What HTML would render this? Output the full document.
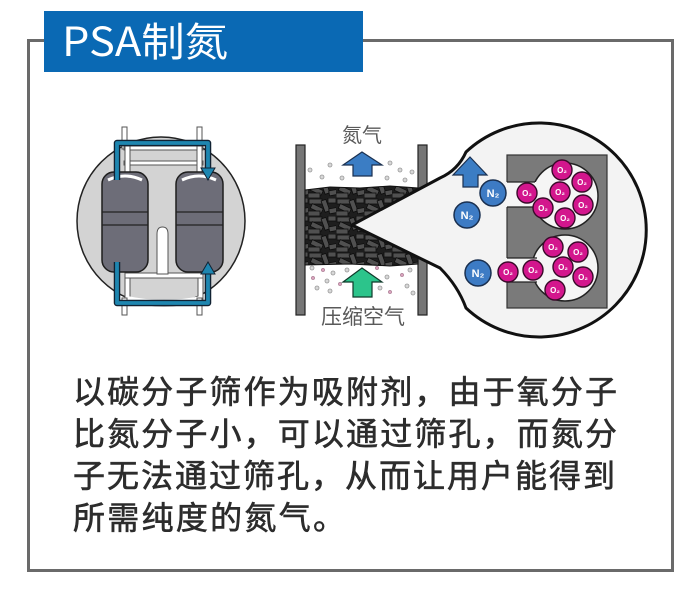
<!DOCTYPE html>
<html>
<head>
<meta charset="utf-8">
<style>
  html,body{margin:0;padding:0;background:#fff;}
  body{width:700px;height:593px;overflow:hidden;}
  svg{display:block;}
  .cjk{font-family:"Liberation Sans","Noto Sans CJK SC",sans-serif;}
</style>
</head>
<body>
<svg width="700" height="593" viewBox="0 0 700 593" xmlns="http://www.w3.org/2000/svg">
  <defs>
    <pattern id="rods" width="28" height="18" patternUnits="userSpaceOnUse">
      <rect width="28" height="18" fill="#1e1e1e"/>
      <g fill="#505050" stroke="#0c0c0c" stroke-width="0.8">
        <rect x="1" y="1" width="13" height="5"/>
        <rect x="15" y="2" width="5" height="12" transform="rotate(-20 17 8)"/>
        <rect x="3" y="8" width="12" height="5" transform="rotate(25 9 10)"/>
        <rect x="21" y="10" width="11" height="5" transform="rotate(-10 26 12)"/>
        <rect x="0" y="13" width="12" height="5"/>
        <rect x="20" y="0" width="8" height="5"/>
      </g>
    </pattern>
  </defs>

  <!-- frame -->
  <rect x="28.5" y="40.5" width="644" height="530" fill="none" stroke="#6a6a6a" stroke-width="3"/>
  <!-- title -->
  <rect x="44" y="11" width="319" height="61" fill="#0a69b4"/>
  <text x="62" y="56" font-size="40" fill="#fff" font-family="'Noto Sans CJK SC','Liberation Sans',sans-serif" textLength="166" lengthAdjust="spacingAndGlyphs">PSA制氮</text>

  <!-- ============ LEFT DIAGRAM ============ -->
  <circle cx="161" cy="221" r="84" fill="#d3d3d3" stroke="#222" stroke-width="1.5"/>
  <rect x="122" y="127" width="5" height="22" fill="#fff" stroke="#555" stroke-width="1"/>
  <rect x="197" y="127" width="5" height="22" fill="#fff" stroke="#555" stroke-width="1"/>
  <rect x="124" y="146" width="79" height="4" fill="#fff" stroke="#555" stroke-width="1"/>
  <rect x="124" y="161" width="79" height="4" fill="#fff" stroke="#555" stroke-width="1"/>
  <rect x="125" y="146" width="5" height="28" fill="#fff" stroke="#555" stroke-width="1"/>
  <rect x="197" y="146" width="5" height="28" fill="#fff" stroke="#555" stroke-width="1"/>
  <rect x="125" y="264" width="5" height="38" fill="#fff" stroke="#555" stroke-width="1"/>
  <rect x="198" y="264" width="5" height="38" fill="#fff" stroke="#555" stroke-width="1"/>
  <rect x="125" y="273" width="78" height="5" fill="#fff" stroke="#555" stroke-width="1"/>
  <path d="M127,298 Q164,306 201,298" fill="none" stroke="#fff" stroke-width="4"/>
  <path d="M127,302 Q164,310 201,302" fill="none" stroke="#555" stroke-width="1"/>
  <rect x="122" y="298" width="5" height="17" fill="#fff" stroke="#555" stroke-width="1"/>
  <rect x="197" y="298" width="5" height="17" fill="#fff" stroke="#555" stroke-width="1"/>
  <path d="M157,274 V234 Q157,227 162.5,227 Q168,227 168,234 V274 Z" fill="#fff" stroke="#555" stroke-width="1"/>
  <rect x="102" y="172" width="46" height="100" rx="12" fill="#6d6d78" stroke="#1e1e1e" stroke-width="1.5"/>
  <rect x="176" y="172" width="47" height="100" rx="12" fill="#6d6d78" stroke="#1e1e1e" stroke-width="1.5"/>
  <path d="M108,180 Q125,172 142,180" fill="none" stroke="#fff" stroke-width="3"/>
  <path d="M182,180 Q199,172 216,180" fill="none" stroke="#fff" stroke-width="3"/>
  <g stroke="#222" stroke-width="1.2">
    <line x1="102" y1="212" x2="148" y2="212"/>
    <line x1="102" y1="225" x2="148" y2="225"/>
    <line x1="176" y1="212" x2="223" y2="212"/>
    <line x1="176" y1="225" x2="223" y2="225"/>
  </g>
  <g fill="none" stroke-linejoin="round">
    <path d="M117,180 V143 H208 V170" stroke="#123" stroke-width="6.5"/>
    <path d="M117,180 V143 H208 V170" stroke="#1e86b0" stroke-width="3.8"/>
    <path d="M117,262 V303 H208 V272" stroke="#123" stroke-width="6.5"/>
    <path d="M117,262 V303 H208 V272" stroke="#1e86b0" stroke-width="3.8"/>
  </g>
  <polygon points="201,168 215,168 208,180" fill="#1e86b0" stroke="#123" stroke-width="1"/>
  <polygon points="201,274 215,274 208,262" fill="#1e86b0" stroke="#123" stroke-width="1"/>

  <!-- ============ MIDDLE DIAGRAM ============ -->
  <rect x="296" y="145" width="9" height="170" fill="#767676" stroke="#222" stroke-width="1.2"/>
  <rect x="418" y="145" width="9" height="170" fill="#767676" stroke="#222" stroke-width="1.2"/>
  <g fill="#d8d8d8" stroke="#999" stroke-width="0.8">
    <circle cx="310" cy="170" r="2"/><circle cx="330" cy="165" r="2"/><circle cx="322" cy="177" r="2"/>
    <circle cx="342" cy="178" r="2"/><circle cx="390" cy="163" r="2"/><circle cx="400" cy="170" r="2"/>
    <circle cx="412" cy="172" r="2"/><circle cx="387" cy="178" r="2"/><circle cx="405" cy="180" r="2"/>
    <circle cx="312" cy="268" r="2"/><circle cx="333" cy="273" r="2"/><circle cx="327" cy="281" r="2"/>
    <circle cx="347" cy="270" r="2"/><circle cx="387" cy="277" r="2"/><circle cx="410" cy="270" r="2"/>
    <circle cx="317" cy="288" r="2"/><circle cx="380" cy="288" r="2"/><circle cx="407" cy="286" r="2"/>
    <circle cx="330" cy="291" r="2"/><circle cx="413" cy="293" r="2"/>
  </g>
  <g fill="#d9a3bd" stroke="#a07088" stroke-width="0.6">
    <circle cx="323" cy="270" r="1.6"/><circle cx="313" cy="278" r="1.6"/><circle cx="377" cy="268" r="1.6"/>
    <circle cx="402" cy="275" r="1.6"/><circle cx="390" cy="292" r="1.6"/><circle cx="340" cy="284" r="1.6"/>
  </g>
  <path d="M305,190 L330,187 L360,188 L390,186 L418,188 V264 L390,266 L350,264 L305,265 Z" fill="url(#rods)" stroke="#111" stroke-width="1"/>
  <polygon points="362,152 382,165 372,165 372,176 353,176 353,165 343,165" fill="#3b7dc4" stroke="#1a3050" stroke-width="1.2"/>
  <polygon points="362,268 382,282 372,282 372,297 353,297 353,282 343,282" fill="#2cc48b" stroke="#0f3a2a" stroke-width="1.2"/>
  <text class="cjk" x="362" y="142" font-size="20" fill="#5a5a5a" text-anchor="middle">氮气</text>
  <text class="cjk" x="363" y="324" font-size="21" fill="#5a5a5a" text-anchor="middle">压缩空气</text>

  <!-- ============ BUBBLE ============ -->
  <path d="M352,225 L440,178 Q458,170 466,152 A107,107 0 1,1 466,308 Q458,286 440,268 Z" fill="#f3f3f3" stroke="#111" stroke-width="3" stroke-linejoin="round"/>
  <rect x="507" y="155" width="100" height="153" fill="#7a7a7a" stroke="#333" stroke-width="1.2"/>
  <circle cx="565" cy="196" r="33" fill="#f5f5f5" stroke="#222" stroke-width="1.5"/>
  <circle cx="565" cy="268" r="33" fill="#f5f5f5" stroke="#222" stroke-width="1.5"/>
  <rect x="506" y="182" width="34" height="25" fill="#f5f5f5"/>
  <line x1="507" y1="182" x2="535" y2="182" stroke="#222" stroke-width="1.2"/>
  <line x1="507" y1="207" x2="535" y2="207" stroke="#222" stroke-width="1.2"/>
  <rect x="506" y="258" width="36" height="24" fill="#f5f5f5"/>
  <line x1="507" y1="258" x2="537" y2="258" stroke="#222" stroke-width="1.2"/>
  <line x1="507" y1="282" x2="537" y2="282" stroke="#222" stroke-width="1.2"/>

  <g fill="#d3168d" stroke="#3a0a2a" stroke-width="1.4">
    <circle cx="562" cy="170" r="10"/><circle cx="582" cy="182" r="10"/><circle cx="560" cy="192" r="10"/>
    <circle cx="527" cy="193" r="10"/><circle cx="583" cy="205" r="10"/><circle cx="543" cy="208" r="10"/>
    <circle cx="565" cy="218" r="10"/>
    <circle cx="553" cy="247" r="10"/><circle cx="578" cy="252" r="10"/><circle cx="563" cy="267" r="10"/>
    <circle cx="533" cy="270" r="10"/><circle cx="508" cy="272" r="10"/><circle cx="583" cy="277" r="10"/>
    <circle cx="555" cy="290" r="10"/>
  </g>
  <g fill="#fff" font-size="8" font-family="'Liberation Sans',sans-serif" text-anchor="middle" font-weight="bold">
    <text x="562" y="173">O₂</text><text x="582" y="185">O₂</text><text x="560" y="195">O₂</text>
    <text x="527" y="196">O₂</text><text x="583" y="208">O₂</text><text x="543" y="211">O₂</text>
    <text x="565" y="221">O₂</text>
    <text x="553" y="250">O₂</text><text x="578" y="255">O₂</text><text x="563" y="270">O₂</text>
    <text x="533" y="273">O₂</text><text x="508" y="275">O₂</text><text x="583" y="280">O₂</text>
    <text x="555" y="293">O₂</text>
  </g>
  <g fill="#3d7bc4" stroke="#1a3050" stroke-width="1.5">
    <circle cx="493" cy="193" r="13"/><circle cx="467" cy="215" r="13"/><circle cx="478" cy="273" r="13"/>
  </g>
  <g fill="#fff" font-size="11" font-family="'Liberation Sans',sans-serif" text-anchor="middle" font-weight="bold">
    <text x="493" y="197">N₂</text><text x="467" y="219">N₂</text><text x="478" y="277">N₂</text>
  </g>
  <polygon points="470,157 487,175 478,175 478,187 463,187 463,175 453,175" fill="#3b7dc4" stroke="#1a3050" stroke-width="1.2"/>

  <!-- ============ BODY TEXT ============ -->
  <g class="cjk" font-size="32" fill="#2c2c2c" stroke="#2c2c2c" stroke-width="0.6">
    <text x="73" y="403" textLength="544" lengthAdjust="spacing">以碳分子筛作为吸附剂，由于氧分子</text>
    <text x="73" y="445" textLength="544" lengthAdjust="spacing">比氮分子小，可以通过筛孔，而氮分</text>
    <text x="73" y="487" textLength="542" lengthAdjust="spacing">子无法通过筛孔，从而让用户能得到</text>
    <text x="73" y="529" textLength="272" lengthAdjust="spacing">所需纯度的氮气。</text>
  </g>
</svg>
</body>
</html>
